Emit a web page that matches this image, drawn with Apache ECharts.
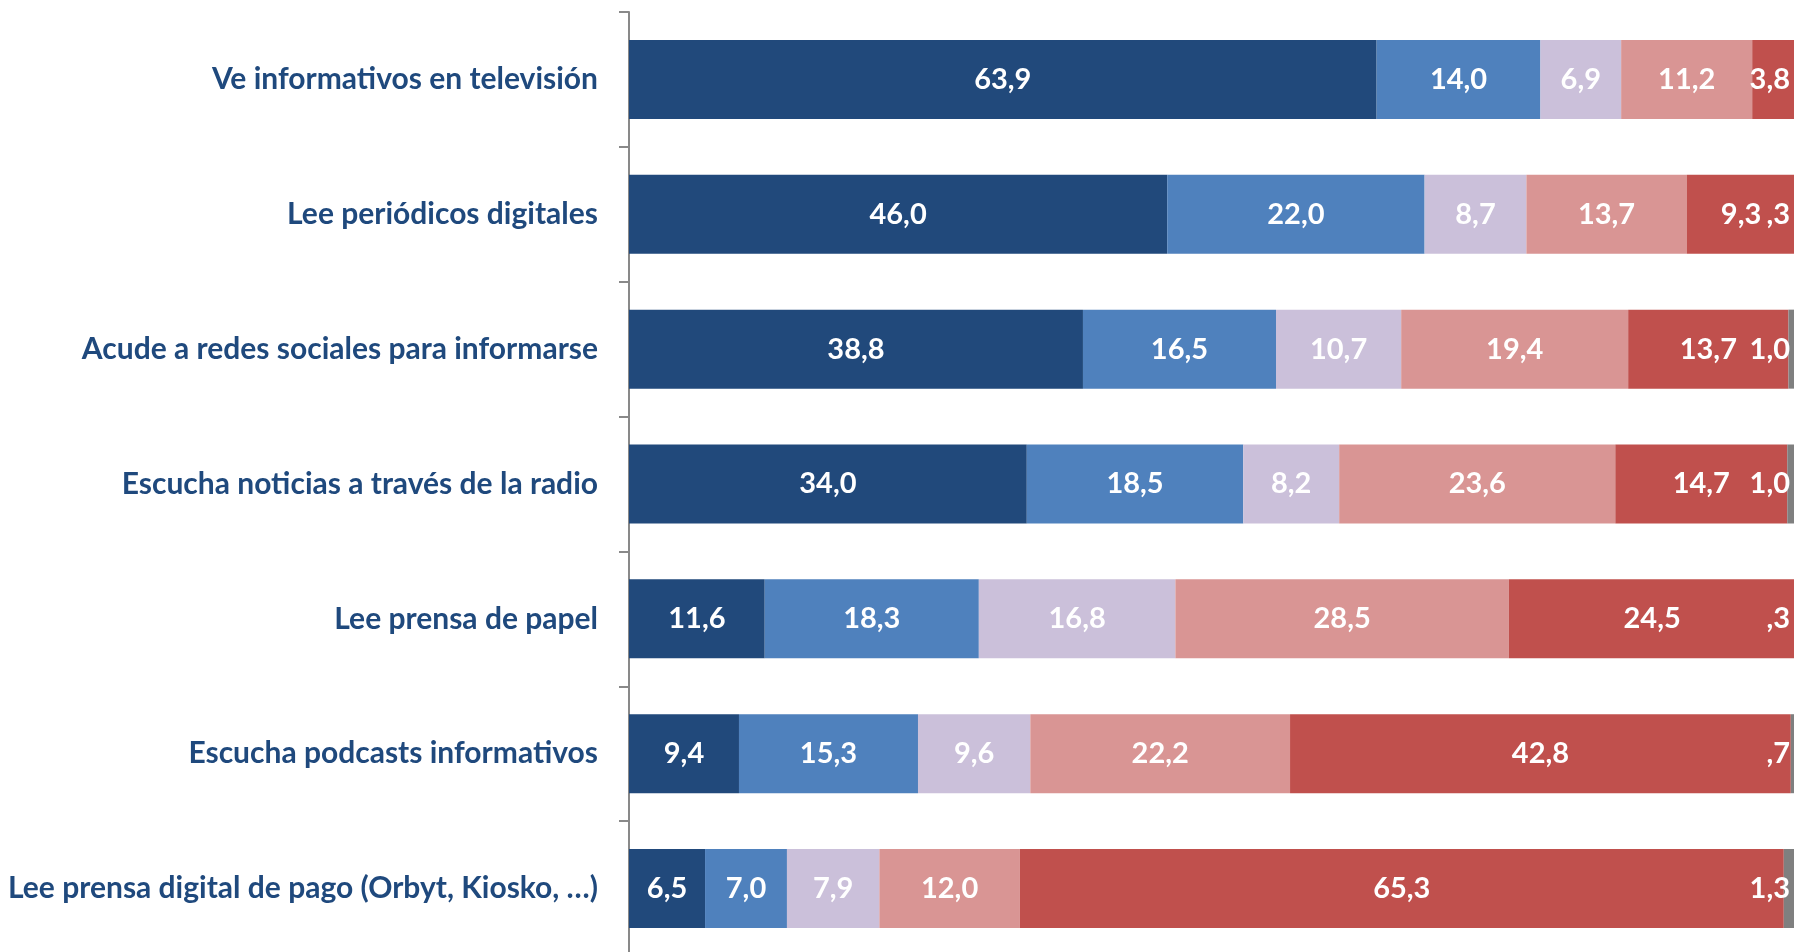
<!DOCTYPE html>
<html>
<head>
<meta charset="utf-8">
<script src="https://cdn.jsdelivr.net/npm/echarts@6/dist/echarts.min.js"></script>
<style>
html,body{margin:0;padding:0;background:#fff;}
#chart{width:1794px;height:952px;}
</style>
</head>
<body>
<div id="chart"></div>
<script>
const categories = [
  'Ve informativos en televisión',
  'Lee periódicos digitales',
  'Acude a redes sociales para informarse',
  'Escucha noticias a través de la radio',
  'Lee prensa de papel',
  'Escucha podcasts informativos',
  'Lee prensa digital de pago (Orbyt, Kiosko, …)'
];
const serie1 = [63.9, 46.0, 38.8, 34.0, 11.6, 9.4, 6.5];
const serie2 = [14.0, 22.0, 16.5, 18.5, 18.3, 15.3, 7.0];
const serie3 = [6.9, 8.7, 10.7, 8.2, 16.8, 9.6, 7.9];
const serie4 = [11.2, 13.7, 19.4, 23.6, 28.5, 22.2, 12.0];
const serie5 = [3.8, 9.3, 13.7, 14.7, 24.5, 42.8, 65.3];
const serie6 = [null, 0.3, 1.0, 1.0, 0.3, 0.7, 1.3];

const colors = ['#21497B', '#4F81BD', '#CBC0DA', '#D99594', '#C0504D', '#7F7F7F'];
const seriesData = [serie1, serie2, serie3, serie4, serie5, serie6];

const chart = echarts.init(document.getElementById('chart'));

function fmt(p) {
  const v = p.value;
  if (v === null || v === undefined) return '';
  let s = Number(v).toFixed(1).replace('.', ',');
  if (s.startsWith('0,')) s = s.slice(1);
  return s;
}

const series = seriesData.map((d, i) => ({
  type: 'bar',
  stack: 'total',
  data: d,
  barWidth: 79,
  itemStyle: { color: colors[i] },
  label: {
    show: true,
    position: 'inside',
    formatter: fmt,
    color: '#FFFFFF',
    fontFamily: 'Lato',
    fontWeight: 'bold',
    fontSize: 29
  },
  labelLayout: function (params) {
    const r = params.labelRect;
    const W = chart.getWidth();
    if (r.x + r.width > W - 4) {
      return { x: W - 4, y: r.y + r.height / 2, align: 'right', verticalAlign: 'middle' };
    }
    return {};
  }
}));

chart.setOption({
  animation: false,
  grid: { left: 629, width: 1170, top: 12, height: 944, containLabel: false, outerBoundsMode: 'none' },
  xAxis: { type: 'value', min: 0, max: 100, show: false },
  yAxis: {
    type: 'category',
    data: categories,
    inverse: true,
    axisLine: { show: true, lineStyle: { color: '#898989', width: 2 } },
    axisTick: { show: true, length: 10, lineStyle: { color: '#898989', width: 2 } },
    axisLabel: {
      margin: 31,
      color: '#1F497D',
      fontFamily: 'Lato',
      fontWeight: 'bold',
      fontSize: 30
    },
    splitLine: { show: false }
  },
  series: series
});
</script>
</body>
</html>
